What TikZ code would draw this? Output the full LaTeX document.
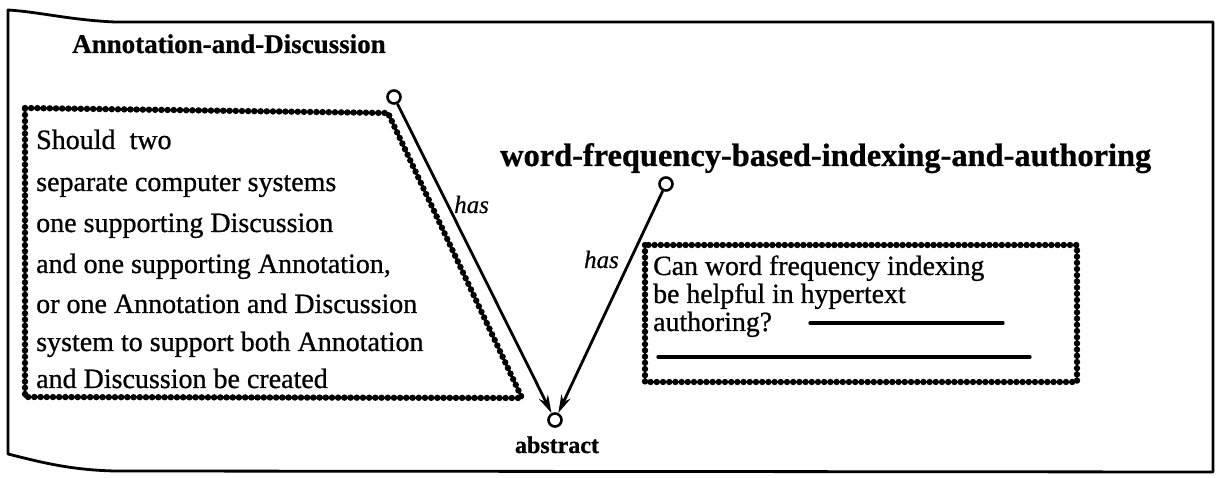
\documentclass[tikz,border=0pt]{standalone}
\usepackage{fontspec}
\setmainfont{Liberation Serif}
\newfontfamily\bodyfont{Liberation Serif}[FakeBold=0.8]
\newfontfamily\boldfont{Liberation Serif Bold}[FakeBold=0.8]
\newfontfamily\labelfont{Liberation Serif Italic}[FakeBold=0.6]
\usetikzlibrary{arrows.meta}
\begin{document}
\begin{tikzpicture}[x=1pt,y=-1pt,
  frame/.style={line width=2.8pt, line join=round},
  beadline/.style={line width=2.4pt, line join=round},
  beads/.style={line width=6.4pt, dash pattern=on 0pt off 6.2pt, line cap=round},
  port/.style={circle, draw, line width=2.6pt, fill=white, minimum size=13pt, inner sep=0pt},
  rel/.style={line width=2.8pt, -{Stealth[length=18pt,width=10pt]}},
  title/.style={font=\fontsize{27}{30}\boldfont, inner sep=0pt, anchor=base west},
  body/.style={font=\fontsize{28}{30}\bodyfont, inner sep=0pt, anchor=base west},
  rbody/.style={font=\fontsize{27.8}{30}\bodyfont, inner sep=0pt, anchor=base west},
  lbl/.style={font=\fontsize{25}{26}\labelfont, inner sep=0pt, anchor=base west},
  rule/.style={line width=3.2pt, line cap=round},
]
\useasboundingbox (0,0) rectangle (1219,478);
% outer frame
\draw[frame] (8,10) .. controls (40,12) and (70,20) .. (115,22) -- (1213,22) -- (1213,472)
  -- (115,471) .. controls (70,470) and (40,462) .. (8,454) -- cycle;

% left box
\draw[beadline] (25,108) -- (388,113) -- (522,398) -- (25,397) -- cycle;
\draw[beads] (25,108) -- (388,113) -- (522,398) -- (25,397) -- cycle;
% right box
\draw[beadline] (645,245) rectangle (1077,382);
\draw[beads] (645,245) rectangle (1077,382);

% titles
\node[title] (t1) at (72,53) {Annotation-and-Discussion};
\node[title, font=\fontsize{32.4}{34}\boldfont] (t2) at (500,166) {word-frequency-based-indexing-and-authoring};
\node[title, anchor=base, font=\fontsize{24}{26}\boldfont] (t3) at (557,453) {abstract};

% ports
\node[port] (c1) at (394,97) {};
\node[port] (c2) at (666,184) {};
\node[port] (c3) at (555,420) {};

\draw[rel] (c1) -- (c3);
\draw[rel] (c2) -- (c3);
\node[lbl] (h1) at (454,213) {has};
\node[lbl, anchor=base east] (h2) at (619,268) {has};

% left text
\node[body] (l1) at (36,149) {Should\ \ two};
\node[body] (l2) at (36,191) {separate computer systems};
\node[body] (l3) at (36,232) {one supporting Discussion};
\node[body] (l4) at (36,273) {and one supporting Annotation,};
\node[body] (l5) at (36,313) {or one Annotation and Discussion};
\node[body] (l6) at (36,351) {system to support both Annotation};
\node[body] (l7) at (36,388) {and Discussion be created};

% right text
\node[rbody] (r1) at (653,275) {Can word frequency indexing};
\node[rbody] (r2) at (653,303) {be helpful in hypertext};
\node[rbody] (r3) at (653,331) {authoring?};
\coordinate (s1) at (810,323);
\coordinate (s2) at (1003,323);
\coordinate (s3) at (658,357);
\coordinate (s4) at (1030,357);
\draw[rule] (s1) -- (s2);
\draw[rule] (s3) -- (s4);
\end{tikzpicture}
\end{document}
